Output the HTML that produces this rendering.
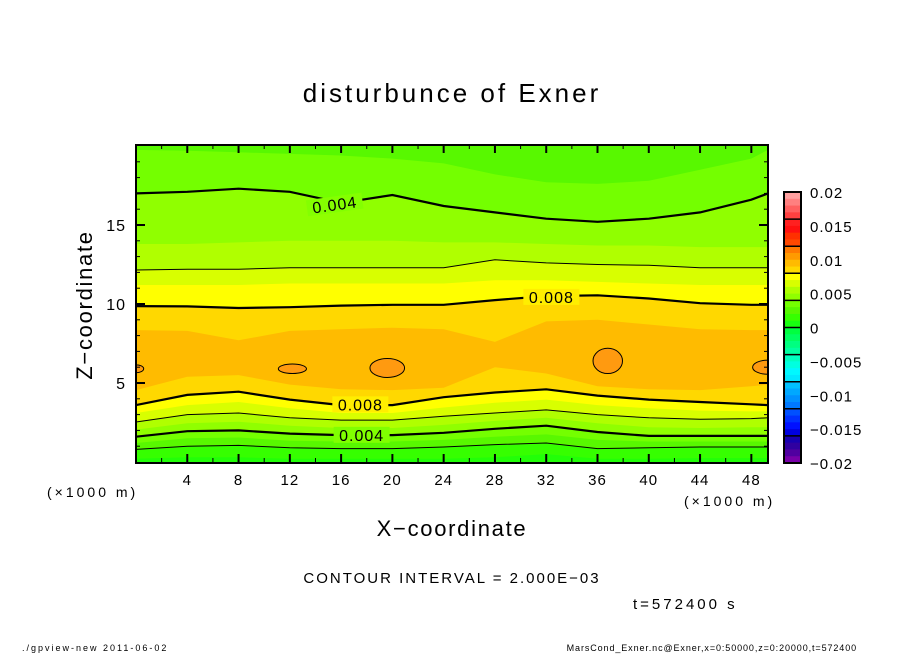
<!DOCTYPE html>
<html><head><meta charset="utf-8"><style>
html,body{margin:0;padding:0;background:#fff;}
svg text{font-family:"Liberation Sans",sans-serif;fill:#000;}
</style></head><body>
<svg id="chart" width="904" height="654" viewBox="0 0 904 654" xmlns="http://www.w3.org/2000/svg">
<rect width="904" height="654" fill="#fff"/>
<text x="452" y="102" text-anchor="middle" font-size="26" letter-spacing="3">disturbunce of Exner</text>
<g id="plot"></g>
<g id="axes"></g>
<g id="cbar"></g>
<text x="452" y="536" text-anchor="middle" font-size="22" letter-spacing="1.7">X−coordinate</text>
<text transform="translate(92,305) rotate(-90)" text-anchor="middle" font-size="22" letter-spacing="1.7">Z−coordinate</text>
<text x="47" y="497" font-size="14" letter-spacing="3">(×1000 m)</text>
<text x="684" y="506" font-size="14" letter-spacing="3">(×1000 m)</text>
<text x="452" y="583" text-anchor="middle" font-size="15" letter-spacing="2">CONTOUR INTERVAL = 2.000E−03</text>
<text x="633" y="609" font-size="15" letter-spacing="3">t=572400 s</text>
<text x="22" y="651" font-size="9" letter-spacing="2">./gpview-new  2011-06-02</text>
<text x="857" y="651" text-anchor="end" font-size="9" letter-spacing="0.9">MarsCond_Exner.nc@Exner,x=0:50000,z=0:20000,t=572400</text>
</svg>
<script>
const xs = [0,4,8,12,16,20,24,28,32,36,40,44,48,49.3];
const bDark   = [19.75,19.7,19.6,19.5,19.4,19.2,18.9,18.2,17.7,17.6,17.8,18.5,19.2,19.75];
const c004top = [17.0,17.1,17.3,17.1,16.4,16.9,16.2,15.8,15.4,15.2,15.4,15.8,16.6,17.0];
const b45     = [13.8,13.8,13.9,14.0,14.0,14.0,13.9,13.9,13.8,13.7,13.7,13.6,13.6,13.6];
const c006top = [12.15,12.2,12.2,12.3,12.3,12.3,12.3,12.8,12.6,12.5,12.45,12.3,12.3,12.3];
const b67     = [11.2,11.2,11.2,11.3,11.3,11.3,11.3,11.5,11.5,11.4,11.3,11.2,11.2,11.2];
const c008top = [9.87,9.85,9.75,9.8,9.9,9.95,9.95,10.25,10.5,10.55,10.35,10.05,9.95,9.95];
const b89top  = [8.35,8.3,7.7,8.3,8.4,8.5,8.4,7.6,8.9,9.0,8.7,8.4,8.35,8.35];
const b89lo   = [4.55,5.4,5.5,4.9,4.6,4.55,4.7,6.0,5.6,4.8,4.6,4.55,4.8,4.9];
const c008lo  = [3.6,4.25,4.45,3.95,3.6,3.6,4.1,4.4,4.6,4.2,3.95,3.8,3.65,3.6];
const b78lo   = [3.1,3.6,3.8,3.4,3.1,3.1,3.45,3.75,3.95,3.6,3.4,3.25,3.2,3.2];
const c006lo  = [2.53,3.0,3.1,2.8,2.65,2.65,2.9,3.1,3.3,3.0,2.8,2.7,2.75,2.8];
const b56lo   = [2.05,2.45,2.55,2.3,2.15,2.15,2.35,2.6,2.8,2.45,2.2,2.15,2.2,2.2];
const c004lo  = [1.6,1.95,2.0,1.8,1.7,1.7,1.85,2.1,2.3,1.9,1.65,1.65,1.65,1.65];
const b34lo   = [1.2,1.5,1.55,1.35,1.3,1.3,1.4,1.6,1.75,1.4,1.3,1.3,1.3,1.3];
const c002lo  = [0.8,1.0,1.05,0.9,0.85,0.85,0.95,1.1,1.2,0.85,0.9,0.95,0.95,0.95];
const b12lo   = [0.2,0.3,0.3,0.2,0.2,0.2,0.2,0.3,0.5,0.2,0.2,0.25,0.25,0.25];
const blobX  = [0,12.2,19.6,36.8,49.3];
const blobZ  = [5.9,5.9,5.95,6.4,6.0];
const blobRx = [0.6,1.1,1.35,1.15,1.2];
const blobRz = [0.25,0.3,0.6,0.8,0.45];
const xTicks = [4,8,12,16,20,24,28,32,36,40,44,48];
const zTicks = [5,10,15];
const cbarLabels = ["0.02","0.015","0.01","0.005","0","−0.005","−0.01","−0.015","−0.02"];
const cbarColors = ["#ffa0a0","#ff8080","#ff6060","#ff4040","#ff2020","#ff1010","#ff3000","#ff4800",
 "#ff7a00","#ff9a00","#ffbb00","#ffd800","#ffff00","#d8ff00","#b0ff00","#90ff00",
 "#74ff00","#58f800","#36ff00","#18ff10","#00ff40","#00ff60","#00ff80","#00ffa0",
 "#00ffc0","#00ffe0","#00f8ff","#00e8ff","#00c0ff","#00a8ff","#0090ff","#0078ff",
 "#0050ff","#0030ff","#0010ff","#0000e0","#1800b0","#3000a0","#5000a0","#7800a8"];

const X0=136, X1=768, Y0=146, Y1=462, XMAX=49.3, ZMAX=20;
const sx = v => X0 + v/XMAX*(X1-X0);
const sz = v => Y1 - v/ZMAX*(Y1-Y0);
const NS="http://www.w3.org/2000/svg";
function mk(tag, parent, attrs){const e=document.createElementNS(NS,tag);for(const k in attrs)e.setAttribute(k,attrs[k]);parent.appendChild(e);return e;}
const plot=document.getElementById('plot'), axes=document.getElementById('axes'), cbar=document.getElementById('cbar');
mk('clipPath',plot,{id:'pc'}).appendChild((()=>{const r=document.createElementNS(NS,'rect');r.setAttribute('x',X0);r.setAttribute('y',Y0-1);r.setAttribute('width',X1-X0);r.setAttribute('height',Y1-Y0+2);return r;})());
const g=mk('g',plot,{'clip-path':'url(#pc)'});
const bg=mk('rect',g,{x:X0,y:Y0-1,width:X1-X0,height:Y1-Y0+2,fill:'#58f800'});


const fills=[[bDark,'#74ff00'],[c004top,'#90ff00'],[b45,'#b0ff00'],[c006top,'#d8ff00'],[b67,'#ffff00'],[c008top,'#ffd800'],[b89top,'#ffbb00'],[b89lo,'#ffd800'],[c008lo,'#ffff00'],[b78lo,'#d8ff00'],[c006lo,'#b0ff00'],[b56lo,'#90ff00'],[c004lo,'#74ff00'],[b34lo,'#58f800'],[c002lo,'#36ff00'],[b12lo,'#22ff08']];
const linePts = arr => xs.map((x,i)=>sx(x).toFixed(1)+','+sz(arr[i]).toFixed(1)).join(' ');
fills.forEach((f,k)=>{
  const p=mk('polygon',g,{points:linePts(f[0])+' '+sx(XMAX)+','+(Y1+2)+' '+sx(0)+','+(Y1+2),fill:f[1]});
  
  
});
blobX.forEach((bx,i)=>{
  const e=mk('ellipse',g,{cx:sx(bx),cy:sz(blobZ[i]),rx:sx(blobRx[i])-sx(0),ry:sz(0)-sz(blobRz[i]),fill:'#ff9a10',stroke:'#000','stroke-width':1});
  
  
});
const lines=[[c004top,2.2],[c006top,1],[c008top,2.2],[c008lo,2.2],[c006lo,1],[c004lo,2.2],[c002lo,1]];
lines.forEach((l,k)=>{
  const pl=mk('polyline',g,{points:linePts(l[0]),fill:'none',stroke:'#000','stroke-width':l[1]});
  
  
});
const labs=[[15.5,16.3,'0.004',-8,'#84ff00'],[32.4,10.45,'0.008',0,'#ffee00'],[17.5,3.65,'0.008',0,'#ffee00'],[17.6,1.72,'0.004',0,'#80ff00']];
labs.forEach(l=>{
  const gg=mk('g',g,{transform:`translate(${sx(l[0])},${sz(l[1])}) rotate(${l[3]})`});
  
  
  mk('rect',gg,{x:-28,y:-8,width:56,height:16,fill:l[4]});
  const t=mk('text',gg,{x:0,y:6,'text-anchor':'middle','font-size':16,'letter-spacing':1});
  t.textContent=l[2];
});
const fr=mk('rect',axes,{x:X0,y:Y0-1,width:X1-X0,height:Y1-Y0+2,fill:'none',stroke:'#000','stroke-width':2});


for(let v=2;v<XMAX;v+=2){
  const L=(v%4===0)?8:4;
  mk('line',axes,{x1:sx(v),x2:sx(v),y1:Y1,y2:Y1-L,stroke:'#000','stroke-width':L>4?2:1});
  mk('line',axes,{x1:sx(v),x2:sx(v),y1:Y0-1,y2:Y0-1+L,stroke:'#000','stroke-width':L>4?2:1});
}
for(let v=1;v<ZMAX;v++){
  const L=(v%5===0)?9:4;
  mk('line',axes,{x1:X0,x2:X0+L,y1:sz(v),y2:sz(v),stroke:'#000','stroke-width':L>4?2:1});
  mk('line',axes,{x1:X1,x2:X1-L,y1:sz(v),y2:sz(v),stroke:'#000','stroke-width':L>4?2:1});
}
xTicks.forEach(v=>{
  const t=mk('text',axes,{x:sx(v),y:485,'text-anchor':'middle','font-size':15,'letter-spacing':1});
  
  
  t.textContent=v;
});
zTicks.forEach(v=>{
  const t=mk('text',axes,{x:126,y:sz(v)+6,'text-anchor':'end','font-size':16,'letter-spacing':1});
  
  
  t.textContent=v;
});
const CX=784, CW=17, CY0=192, CY1=463, ch=(CY1-CY0)/cbarColors.length;
cbarColors.forEach((c,i)=>{
  const r=mk('rect',cbar,{x:CX,y:CY0+i*ch,width:CW,height:ch+0.4,fill:c});
  
  
});
for(let i=0;i<=cbarColors.length;i+=4){mk('line',cbar,{x1:CX,x2:CX+CW,y1:CY0+i*ch,y2:CY0+i*ch,stroke:'#000','stroke-width':1.5});}
mk('rect',cbar,{x:CX,y:CY0,width:CW,height:CY1-CY0,fill:'none',stroke:'#000','stroke-width':2});
cbarLabels.forEach((s,i)=>{
  const t=mk('text',cbar,{x:810,y:CY0+i*5*ch+6,'font-size':15,'letter-spacing':1});
  
  
  t.textContent=s;
});
</script>
</body></html>
